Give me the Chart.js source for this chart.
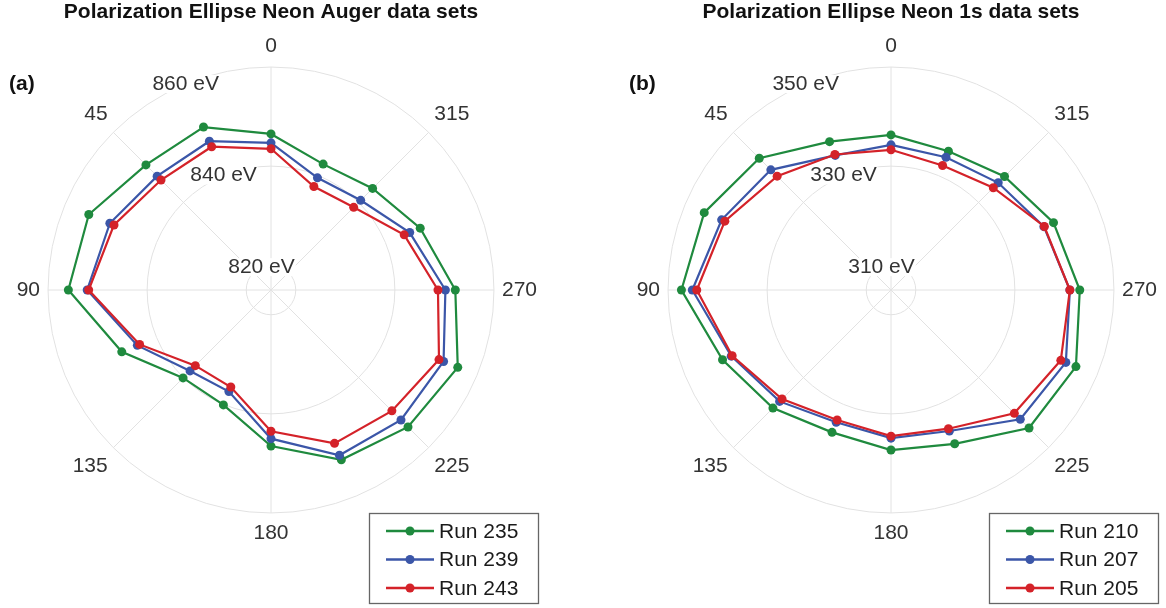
<!DOCTYPE html>
<html>
<head>
<meta charset="utf-8">
<script src="https://cdn.jsdelivr.net/npm/chart.js@4.4.1/dist/chart.umd.min.js"></script>
<style>
  body { margin: 0; background: #fff; }
  #wrap { position: relative; width: 1166px; height: 608px; }
  canvas { position: absolute; top: 0; }
</style>
</head>
<body>
<div id="wrap">
  <canvas id="augerChart" width="583" height="608" style="left:0"></canvas>
  <canvas id="oneSChart" width="583" height="608" style="left:583px"></canvas>
</div>
<script>
// polarizer angle (deg), counter-clockwise from the top
var angles = [0, 22.5, 45, 67.5, 90, 112.5, 135, 157.5, 180, 202.5, 225, 247.5, 270, 292.5, 315, 337.5];

// (a) Neon Auger, energy in eV
var augerRuns = ['Run 235', 'Run 239', 'Run 243'];
var run235 = [846.5, 850.6, 850.7, 854.8, 855.9, 847.6, 840.1, 840.1, 846.5, 852.1, 854.1, 855.8, 852.2, 847.6, 844.0, 842.5];
var run239 = [844.7, 847.5, 847.5, 850.2, 852.1, 844.2, 838.1, 837.2, 845.0, 851.1, 852.1, 852.7, 850.2, 845.3, 840.6, 839.5];
var run243 = [843.5, 846.3, 846.4, 849.3, 851.8, 843.7, 836.6, 836.2, 843.5, 848.5, 849.5, 851.7, 848.7, 844.1, 838.6, 837.6];
var augerTicks = [820, 840, 860];

// (b) Neon 1s, energy in eV
var oneSRuns = ['Run 210', 'Run 207', 'Run 205'];
var run210 = [336.3, 337.4, 342.6, 345.8, 347.3, 341.8, 338.7, 336.1, 337.3, 338.6, 344.4, 345.4, 343.1, 340.5, 337.4, 335.3];
var run207 = [334.3, 334.4, 339.3, 342.0, 345.1, 339.9, 336.8, 333.9, 334.9, 335.8, 341.9, 343.2, 341.1, 338.4, 335.6, 334.0];
var run205 = [333.3, 334.6, 337.5, 341.3, 344.2, 339.7, 336.1, 333.4, 334.5, 335.3, 340.2, 342.1, 341.1, 338.5, 334.2, 332.2];
var oneSTicks = [310, 330, 350];

var runColors = ['#1f8a3e', '#3b56a8', '#d42229'];
var fontFamily = '"Liberation Sans", Arial, Helvetica, sans-serif';

// radar charts go clockwise, these angles go the other way
function clockwise(arr) {
    return [arr[0]].concat(arr.slice(1).reverse());
}

var decorPlugin = {
    id: 'decor',
    beforeDatasetsDraw: function (chart, args, opts) {
        var r = chart.scales.r;
        var ctx = chart.ctx;
        var idx = chart.data.labels.length - 1; // the 22.5 direction
        ctx.save();
        ctx.font = '21px ' + fontFamily;
        ctx.textAlign = 'center';
        ctx.textBaseline = 'middle';
        opts.tickValues.forEach(function (v) {
            var p = r.getPointPositionForValue(idx, v);
            var txt = v + ' eV';
            var w = ctx.measureText(txt).width;
            ctx.fillStyle = '#fff';
            ctx.fillRect(p.x - w / 2 - 1, p.y - 9, w + 2, 18);
            ctx.fillStyle = '#333';
            ctx.fillText(txt, p.x, p.y);
        });
        ctx.restore();
    },
    afterDraw: function (chart, args, opts) {
        var r = chart.scales.r;
        var ctx = chart.ctx;
        ctx.save();
        ctx.textBaseline = 'middle';

        ctx.fillStyle = '#111';
        ctx.font = 'bold 21px ' + fontFamily;
        ctx.textAlign = 'center';
        ctx.fillText(opts.title, r.xCenter, 12);
        ctx.textAlign = 'left';
        ctx.fillText(opts.tag, r.xCenter - 262, 84);

        // legend box
        var x0 = r.xCenter + 98, y0 = r.yCenter + 223, w = 169, h = 90;
        ctx.fillStyle = '#fff';
        ctx.fillRect(x0, y0, w, h);
        ctx.strokeStyle = '#666';
        ctx.lineWidth = 1.3;
        ctx.strokeRect(x0 + 0.5, y0 + 0.5, w, h);
        ctx.font = '21px ' + fontFamily;
        chart.data.datasets.forEach(function (ds, i) {
            var y = y0 + 18 + i * 28.5;
            ctx.strokeStyle = ds.borderColor;
            ctx.lineWidth = 2.6;
            ctx.beginPath();
            ctx.moveTo(x0 + 17, y);
            ctx.lineTo(x0 + 65, y);
            ctx.stroke();
            ctx.fillStyle = ds.borderColor;
            ctx.beginPath();
            ctx.arc(x0 + 41, y, 4.5, 0, Math.PI * 2);
            ctx.fill();
            ctx.fillStyle = '#1a1a1a';
            ctx.fillText(ds.label, x0 + 70, y + 1);
        });
        ctx.restore();
    }
};

function makeChart(id, title, tag, runs, series, tickValues, pad) {
    var datasets = [];
    for (var i = 0; i < runs.length; i++) {
        datasets.push({
            label: runs[i],
            data: clockwise(series[i]),
            borderColor: runColors[i],
            backgroundColor: runColors[i],
            pointBackgroundColor: runColors[i],
            pointBorderColor: runColors[i],
            borderWidth: 2.2,
            pointRadius: 4.5,
            pointBorderWidth: 0,
            fill: false,
            order: runs.length - i
        });
    }
    var min = tickValues[0] - 5;
    var max = tickValues[tickValues.length - 1];
    var gridColor = '#e2e2e2';

    return new Chart(document.getElementById(id), {
        type: 'radar',
        data: { labels: clockwise(angles), datasets: datasets },
        options: {
            responsive: false,
            animation: false,
            layout: { padding: pad },
            plugins: {
                legend: { display: false },
                tooltip: { enabled: false },
                decor: { title: title, tag: tag, tickValues: tickValues }
            },
            scales: {
                r: {
                    min: min,
                    max: max,
                    afterBuildTicks: function (scale) {
                        scale.ticks = [min].concat(tickValues).map(function (v) { return { value: v }; });
                    },
                    ticks: { display: false },
                    grid: { circular: true, color: gridColor, lineWidth: 1 },
                    angleLines: {
                        color: function (c) { return c.index % 2 ? 'rgba(0,0,0,0)' : gridColor; },
                        lineWidth: 1
                    },
                    pointLabels: {
                        color: '#333',
                        padding: 8,
                        font: { family: fontFamily, size: 21 },
                        callback: function (label) {
                            return label % 45 === 0 ? String(label) : '';
                        }
                    }
                }
            }
        },
        plugins: [decorPlugin]
    });
}

makeChart('augerChart', 'Polarization Ellipse Neon Auger data sets', '(a)',
    augerRuns, [run235, run239, run243], augerTicks,
    { left: 11, right: 40, top: 24, bottom: 51 });

makeChart('oneSChart', 'Polarization Ellipse Neon 1s data sets', '(b)',
    oneSRuns, [run210, run207, run205], oneSTicks,
    { left: 48, right: 3, top: 24, bottom: 51 });
</script>
</body>
</html>
